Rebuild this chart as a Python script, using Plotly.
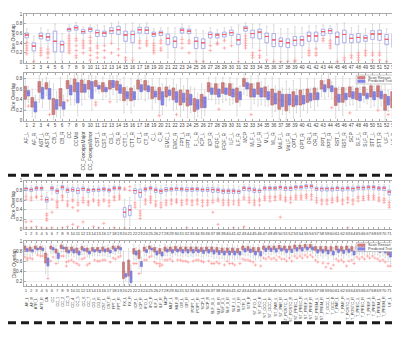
import plotly.graph_objects as go

# ---------------- data ----------------
n1 = 53
names53 = ["AF_L","AF_R","AST_L","AST_R","CB_L","CB_R","CC","CCMid","CC_ForcepsMajor","CC_ForcepsMinor",
           "CST_L","CST_R","CS_L","CS_R","CTT_L","CTT_R","CT_L","CT_R","C_L","C_R","EMC_L","EMC_R",
           "FPT_L","FPT_R","F_L_R","ICP_L","ICP_R","IFOF_L","IFOF_R","ILF_L","ILF_R","MCP","MLF_L","MLF_R",
           "ML_L","ML_R","MdLF_L","MdLF_R","OPT_L","OPT_R","OR_L","OR_R","PPT_L","PPT_R","RST_L","RST_R",
           "SCP","SLF_L","SLF_R","STT_L","STT_R","UF_L","UF_R"]
names72 = ["AF_L","AF_R","ATR_L","ATR_R","CA","CC","CC_1","CC_2","CC_3","CC_4","CC_5","CC_6","CC_7",
           "CG_L","CG_R","CST_L","CST_R","FPT_L","FPT_R","FX_L","FX_R","ICP_L","ICP_R","IFO_L","IFO_R",
           "ILF_L","ILF_R","MCP","MLF_L","MLF_R","OR_L","OR_R","POPT_L","POPT_R","SCP_L","SCP_R",
           "SLF_III_L","SLF_III_R","SLF_II_L","SLF_II_R","SLF_I_L","SLF_I_R","STR_L","STR_R",
           "ST_FO_L","ST_FO_R","ST_OCC_L","ST_OCC_R","ST_PAR_L","ST_PAR_R","ST_POSTC_L","ST_POSTC_R",
           "ST_PREC_L","ST_PREC_R","ST_PREF_L","ST_PREF_R","ST_PREM_L","ST_PREM_R","T_OCC_L","T_OCC_R",
           "T_PAR_L","T_PAR_R","T_POSTC_L","T_POSTC_R","T_PREC_L","T_PREC_R","T_PREF_L","T_PREF_R",
           "T_PREM_L","T_PREM_R","UF_L","UF_R"]

# Panel 1 (53 bundles, single boxes)
q1_1 = [0.51,0.24,0.49,0.46,0.22,0.22,0.65,0.67,0.60,0.64,0.54,0.54,0.60,0.58,0.44,0.41,0.61,0.60,0.54,0.56,0.37,0.31,0.61,0.60,0.29,0.29,
        0.51,0.51,0.53,0.56,0.37,0.65,0.51,0.49,0.41,0.33,0.33,0.31,0.35,0.35,0.44,0.44,0.56,0.60,0.37,0.41,0.41,0.42,0.44,0.48,0.46,0.37,0.31]
med_1 = [0.57,0.34,0.55,0.53,0.44,0.37,0.69,0.72,0.64,0.69,0.62,0.61,0.66,0.68,0.57,0.58,0.68,0.67,0.59,0.62,0.50,0.44,0.67,0.65,0.44,0.41,
         0.58,0.57,0.58,0.62,0.47,0.71,0.60,0.63,0.54,0.47,0.44,0.41,0.46,0.47,0.55,0.55,0.64,0.66,0.53,0.58,0.50,0.52,0.51,0.59,0.59,0.48,0.47]
q3_1 = [0.61,0.41,0.61,0.60,0.65,0.44,0.71,0.76,0.68,0.72,0.67,0.65,0.72,0.75,0.65,0.65,0.73,0.73,0.63,0.65,0.59,0.53,0.71,0.69,0.52,0.49,
        0.63,0.60,0.63,0.67,0.58,0.75,0.67,0.69,0.61,0.60,0.51,0.49,0.54,0.54,0.63,0.63,0.69,0.70,0.63,0.67,0.58,0.60,0.56,0.66,0.67,0.58,0.60]
lo_1 = [0.42,0.05,0.35,0.33,0.02,0.03,0.58,0.55,0.50,0.55,0.40,0.40,0.45,0.35,0.20,0.10,0.50,0.50,0.45,0.48,0.10,0.05,0.52,0.48,0.05,0.05,
        0.42,0.42,0.48,0.42,0.08,0.58,0.30,0.30,0.15,0.05,0.08,0.05,0.10,0.10,0.30,0.30,0.55,0.48,0.05,0.15,0.20,0.25,0.30,0.25,0.25,0.05,0.05]
hi_1 = [0.70,0.55,0.72,0.68,0.80,0.60,0.78,0.83,0.74,0.78,0.78,0.76,0.82,0.84,0.80,0.82,0.80,0.82,0.70,0.72,0.72,0.72,0.80,0.76,0.68,0.66,
        0.72,0.68,0.72,0.74,0.78,0.82,0.80,0.80,0.75,0.78,0.70,0.70,0.74,0.72,0.76,0.76,0.78,0.76,0.80,0.82,0.72,0.76,0.70,0.80,0.80,0.70,0.76]
out_1 = [[0.41,0.35,0.30,0.25,0.18],[0.02],[0.30,0.25,0.20,0.15],[0.28,0.22,0.18,0.10],[],[],
         [0.55,0.50,0.45,0.40,0.35,0.30,0.25,0.20],[0.50,0.45,0.35,0.25,0.15,0.10],[0.45,0.40,0.35,0.30,0.20],
         [0.52,0.45,0.40,0.30,0.25,0.15,0.05],[0.35,0.30,0.20,0.10],[0.35,0.25,0.10],[0.40,0.20],[0.28,0.15],
         [0.10,0.05],[0.05],[0.45,0.40,0.30],[0.45,0.40,0.35],[0.40,0.35,0.30,0.25,0.20],[0.45,0.40,0.30,0.25],
         [],[],[0.48,0.40,0.30],[0.45,0.40,0.20],[0.02],[0.02],[0.35,0.25],[0.40,0.38],[0.45,0.30],[0.35],[0.02],
         [0.55,0.50,0.45,0.40,0.35,0.30],[0.20,0.15,0.10],[0.25,0.15,0.10],[0.05],[0.02],[0.02],[0.02],[0.05,0.02],
         [],[0.25,0.20,0.15],[0.28,0.20,0.15],[0.50,0.45],[0.45,0.40,0.35,0.30],[0.02],[0.10,0.05],[0.15,0.10],
         [0.20,0.15,0.10,0.05],[0.25,0.20,0.15],[0.20,0.15,0.05],[0.20,0.15,0.05],[0.02],[0.02]]

# Panel 2 (53 bundles, Scan Rescan vs Predicted Truth)
sr2_q1 = [0.41,0.26,0.54,0.60,0.12,0.28,0.61,0.55,0.54,0.60,0.65,0.55,0.60,0.58,0.38,0.38,0.60,0.58,0.42,0.40,0.45,0.40,0.30,0.28,0.18,0.25,
          0.55,0.50,0.52,0.48,0.35,0.65,0.45,0.50,0.45,0.30,0.22,0.19,0.27,0.30,0.35,0.40,0.60,0.62,0.29,0.35,0.45,0.40,0.48,0.45,0.45,0.20,0.25]
sr2_med = [0.55,0.35,0.65,0.66,0.25,0.45,0.70,0.70,0.68,0.70,0.71,0.65,0.70,0.68,0.52,0.50,0.70,0.68,0.55,0.52,0.55,0.52,0.45,0.42,0.30,0.38,
           0.65,0.62,0.63,0.60,0.50,0.74,0.60,0.62,0.55,0.45,0.40,0.35,0.40,0.45,0.48,0.52,0.70,0.70,0.45,0.50,0.55,0.52,0.56,0.56,0.56,0.35,0.40]
sr2_q3 = [0.65,0.44,0.74,0.72,0.42,0.61,0.76,0.79,0.77,0.76,0.76,0.72,0.76,0.75,0.63,0.62,0.77,0.76,0.64,0.63,0.64,0.62,0.58,0.58,0.42,0.50,
          0.72,0.70,0.72,0.70,0.62,0.80,0.70,0.72,0.64,0.60,0.56,0.50,0.55,0.58,0.60,0.62,0.76,0.78,0.62,0.63,0.64,0.62,0.64,0.66,0.66,0.50,0.55]
sr2_lo = [0.20,0.08,0.35,0.48,0.02,0.05,0.45,0.30,0.30,0.45,0.55,0.40,0.42,0.35,0.15,0.15,0.40,0.38,0.22,0.15,0.28,0.20,0.08,0.06,0.02,0.05,
          0.40,0.32,0.35,0.30,0.10,0.50,0.22,0.28,0.28,0.08,0.02,0.02,0.05,0.08,0.15,0.20,0.45,0.45,0.05,0.10,0.30,0.20,0.35,0.25,0.25,0.02,0.05]
sr2_hi = [0.80,0.60,0.85,0.82,0.70,0.82,0.86,0.88,0.88,0.86,0.84,0.82,0.86,0.86,0.82,0.80,0.86,0.86,0.80,0.80,0.80,0.78,0.80,0.80,0.62,0.70,
          0.82,0.82,0.82,0.82,0.80,0.88,0.85,0.86,0.80,0.82,0.80,0.75,0.76,0.80,0.80,0.80,0.86,0.88,0.84,0.84,0.80,0.80,0.78,0.82,0.82,0.72,0.78]
pt2_q1 = [0.47,0.17,0.42,0.41,0.22,0.22,0.49,0.34,0.54,0.42,0.60,0.55,0.63,0.52,0.42,0.40,0.55,0.55,0.45,0.30,0.48,0.35,0.35,0.30,0.22,0.25,
          0.50,0.45,0.50,0.45,0.40,0.60,0.45,0.45,0.40,0.32,0.27,0.30,0.30,0.32,0.38,0.40,0.55,0.55,0.35,0.40,0.42,0.38,0.42,0.40,0.42,0.30,0.30]
pt2_med = [0.52,0.27,0.52,0.50,0.30,0.28,0.58,0.55,0.62,0.58,0.63,0.59,0.68,0.60,0.48,0.46,0.62,0.60,0.50,0.45,0.52,0.45,0.42,0.40,0.30,0.35,
           0.56,0.52,0.56,0.52,0.47,0.66,0.52,0.55,0.48,0.42,0.38,0.40,0.38,0.40,0.45,0.46,0.62,0.60,0.42,0.46,0.48,0.45,0.47,0.48,0.48,0.38,0.38]
pt2_q3 = [0.57,0.36,0.63,0.61,0.40,0.36,0.67,0.72,0.69,0.74,0.67,0.63,0.76,0.68,0.55,0.55,0.68,0.66,0.56,0.55,0.58,0.55,0.52,0.50,0.40,0.45,
          0.62,0.60,0.62,0.60,0.55,0.72,0.60,0.62,0.55,0.52,0.50,0.50,0.48,0.48,0.52,0.53,0.68,0.66,0.50,0.52,0.55,0.52,0.52,0.55,0.56,0.46,0.45]
pt2_lo = [0.35,0.05,0.25,0.22,0.08,0.10,0.30,0.10,0.40,0.20,0.52,0.45,0.50,0.38,0.30,0.28,0.42,0.42,0.35,0.12,0.38,0.22,0.20,0.15,0.08,0.10,
          0.40,0.32,0.38,0.32,0.28,0.48,0.32,0.30,0.28,0.18,0.12,0.15,0.15,0.20,0.25,0.28,0.42,0.42,0.20,0.28,0.30,0.25,0.32,0.28,0.28,0.18,0.15]
pt2_hi = [0.65,0.48,0.78,0.75,0.55,0.48,0.80,0.86,0.78,0.86,0.72,0.68,0.84,0.78,0.65,0.66,0.78,0.75,0.64,0.70,0.66,0.68,0.66,0.64,0.52,0.58,
          0.70,0.70,0.70,0.70,0.66,0.80,0.70,0.74,0.66,0.66,0.62,0.62,0.60,0.60,0.62,0.62,0.76,0.74,0.64,0.62,0.65,0.64,0.60,0.66,0.66,0.58,0.56]
sr2_out_cat = [7, 11, 11, 13, 20, 33, 47, 51]
sr2_out_val = [0.38, 0.30, 0.35, 0.36, 0.10, 0.12, 0.15, 0.20]
pt2_out_cat = [1, 4, 22, 28, 44, 52]
pt2_out_val = [0.28, 0.12, 0.12, 0.22, 0.25, 0.12]

# Panel 3 (72 bundles, single boxes)
q1_3 = [0.80,0.78,0.81,0.81,0.56,0.81,0.74,0.83,0.76,0.78,0.74,0.80,0.76,0.78,0.78,0.79,0.77,0.82,0.82,0.25,0.28,0.74,0.66,0.79,0.82,0.76,0.74,0.78,0.79,0.80,0.79,0.78,0.78,0.79,0.78,0.78,
        0.76,0.76,0.74,0.74,0.74,0.74,0.80,0.79,0.76,0.76,0.81,0.81,0.81,0.83,0.80,0.80,0.83,0.83,0.85,0.85,0.80,0.79,0.79,0.79,0.80,0.79,0.81,0.79,0.82,0.82,0.83,0.83,0.81,0.80,0.71,0.74]
med_3 = [0.84,0.82,0.85,0.85,0.61,0.85,0.79,0.87,0.81,0.82,0.80,0.84,0.81,0.82,0.82,0.83,0.81,0.85,0.85,0.35,0.40,0.80,0.76,0.83,0.85,0.81,0.79,0.82,0.83,0.84,0.83,0.82,0.83,0.83,0.82,0.82,
         0.82,0.81,0.79,0.79,0.79,0.78,0.85,0.84,0.81,0.80,0.85,0.85,0.85,0.87,0.85,0.85,0.87,0.87,0.89,0.89,0.84,0.84,0.84,0.84,0.85,0.84,0.85,0.84,0.86,0.86,0.87,0.87,0.85,0.85,0.77,0.79]
q3_3 = [0.86,0.85,0.88,0.87,0.66,0.88,0.83,0.90,0.85,0.86,0.85,0.87,0.84,0.84,0.85,0.86,0.84,0.88,0.88,0.45,0.49,0.84,0.83,0.86,0.88,0.85,0.83,0.86,0.86,0.87,0.86,0.86,0.86,0.86,0.85,0.86,
        0.86,0.85,0.83,0.83,0.83,0.81,0.88,0.87,0.85,0.83,0.88,0.88,0.88,0.89,0.88,0.88,0.90,0.90,0.92,0.92,0.87,0.87,0.87,0.87,0.88,0.87,0.88,0.87,0.89,0.89,0.90,0.90,0.88,0.88,0.81,0.83]
lo_3 = [0.72,0.68,0.72,0.72,0.42,0.72,0.62,0.75,0.65,0.68,0.60,0.70,0.65,0.70,0.68,0.70,0.68,0.74,0.74,0.05,0.08,0.62,0.45,0.70,0.74,0.65,0.62,0.68,0.70,0.70,0.70,0.68,0.68,0.70,0.68,0.68,
        0.64,0.64,0.62,0.62,0.62,0.62,0.70,0.68,0.64,0.64,0.72,0.72,0.72,0.74,0.70,0.70,0.74,0.74,0.77,0.77,0.70,0.68,0.68,0.68,0.70,0.68,0.72,0.68,0.73,0.73,0.74,0.74,0.72,0.70,0.57,0.62]
hi_3 = [0.91,0.90,0.93,0.92,0.76,0.93,0.91,0.95,0.91,0.92,0.92,0.93,0.90,0.90,0.91,0.92,0.90,0.93,0.93,0.62,0.66,0.92,0.93,0.92,0.93,0.92,0.91,0.92,0.92,0.93,0.92,0.92,0.92,0.92,0.91,0.92,
        0.92,0.92,0.91,0.91,0.91,0.89,0.93,0.93,0.92,0.91,0.93,0.93,0.93,0.94,0.93,0.93,0.95,0.95,0.96,0.96,0.93,0.93,0.93,0.93,0.93,0.93,0.93,0.93,0.94,0.94,0.95,0.95,0.93,0.93,0.90,0.91]
out_3 = [[0.68,0.62,0.15,0.03],[0.65,0.60,0.16,0.03],[0.68,0.65,0.05],[0.68,0.62,0.03],[0.32,0.28,0.22,0.18,0.02],
         [0.62,0.35,0.03],[0.58,0.55,0.50,0.45],[0.70,0.66,0.60,0.03],[0.58,0.52,0.48,0.05],[0.62,0.58,0.45,0.10],
         [0.55,0.50,0.38,0.05],[0.65,0.60,0.55,0.15],[0.58,0.55,0.50],[0.62,0.58,0.05],[0.60,0.55,0.50,0.03],
         [0.62,0.58,0.12],[0.60,0.55,0.48],[0.68,0.65,0.60,0.03],[0.70,0.66,0.62],[0.85,0.82,0.02],[0.88,0.80],
         [0.55,0.50,0.45],[0.38,0.33,0.28,0.22],[0.62,0.58,0.52],[0.68,0.64,0.60,0.55],[0.58,0.52,0.48],
         [0.55,0.50,0.45],[0.60,0.55,0.50],[0.62,0.58,0.52],[0.62,0.58,0.55],[0.60,0.55,0.50],[0.62,0.58,0.52,0.03],
         [0.60,0.56,0.50],[0.62,0.58,0.52],[0.60,0.55,0.48],[0.60,0.55,0.50],[0.60,0.55,0.35],[0.62,0.58,0.10],
         [0.60,0.55,0.50],[0.60,0.55,0.50],[0.58,0.52,0.03],[0.60,0.55,0.50],[0.66,0.62,0.05],[0.65,0.60,0.55],
         [0.60,0.55,0.50],[0.62,0.58,0.50],[0.68,0.64,0.60],[0.68,0.64,0.58],[0.68,0.65,0.60],[0.70,0.66,0.62,0.25],
         [0.66,0.62,0.58],[0.66,0.62,0.55],[0.70,0.66,0.62],[0.70,0.66,0.62],[0.72,0.68,0.64],[0.72,0.68,0.62],
         [0.65,0.60,0.55],[0.62,0.58,0.52],[0.62,0.58,0.52],[0.64,0.60,0.55],[0.66,0.62,0.58],[0.62,0.58,0.52],
         [0.66,0.62,0.55,0.03],[0.62,0.58,0.52],[0.68,0.64,0.58],[0.68,0.64,0.60],[0.70,0.66,0.62],[0.70,0.66,0.62],
         [0.66,0.62,0.58],[0.64,0.60,0.55],[0.55,0.50,0.45],[0.58,0.52,0.48]]

# Panel 4 (72 bundles, Scan Rescan vs Predicted Truth)
sr4_q1 = [0.82,0.80,0.84,0.83,0.56,0.84,0.76,0.85,0.78,0.80,0.76,0.82,0.78,0.80,0.80,0.80,0.79,0.84,0.84,0.25,0.30,0.74,0.65,0.80,0.84,0.78,0.75,0.80,0.80,0.81,0.80,0.80,0.80,0.80,0.79,0.80,
          0.79,0.78,0.77,0.77,0.77,0.76,0.82,0.81,0.78,0.78,0.83,0.83,0.83,0.84,0.82,0.82,0.84,0.84,0.86,0.86,0.81,0.80,0.80,0.80,0.82,0.80,0.82,0.80,0.83,0.83,0.84,0.84,0.82,0.81,0.72,0.76]
sr4_med = [0.87,0.85,0.87,0.86,0.66,0.87,0.80,0.89,0.84,0.84,0.82,0.86,0.82,0.84,0.84,0.85,0.83,0.87,0.87,0.40,0.45,0.80,0.75,0.85,0.87,0.83,0.81,0.85,0.85,0.86,0.85,0.85,0.85,0.85,0.84,0.85,
           0.84,0.83,0.82,0.82,0.82,0.81,0.87,0.86,0.83,0.83,0.87,0.87,0.87,0.88,0.87,0.87,0.89,0.89,0.90,0.90,0.86,0.85,0.85,0.85,0.87,0.85,0.87,0.85,0.88,0.88,0.89,0.89,0.87,0.86,0.77,0.81]
sr4_q3 = [0.90,0.88,0.90,0.89,0.76,0.90,0.84,0.92,0.88,0.88,0.86,0.89,0.86,0.87,0.87,0.88,0.86,0.90,0.90,0.58,0.62,0.85,0.82,0.88,0.90,0.87,0.85,0.88,0.88,0.89,0.88,0.88,0.88,0.88,0.87,0.88,
          0.88,0.87,0.86,0.86,0.86,0.85,0.90,0.89,0.87,0.87,0.90,0.90,0.90,0.91,0.90,0.90,0.92,0.92,0.93,0.93,0.89,0.89,0.89,0.89,0.90,0.89,0.90,0.89,0.91,0.91,0.92,0.92,0.90,0.90,0.82,0.85]
sr4_lo = [0.72,0.70,0.75,0.74,0.35,0.75,0.64,0.78,0.66,0.70,0.64,0.72,0.68,0.70,0.70,0.70,0.68,0.75,0.75,0.10,0.12,0.62,0.45,0.70,0.75,0.66,0.62,0.70,0.70,0.72,0.70,0.70,0.70,0.70,0.68,0.70,
          0.68,0.66,0.65,0.65,0.65,0.64,0.72,0.70,0.66,0.66,0.74,0.74,0.74,0.75,0.72,0.72,0.75,0.75,0.78,0.78,0.70,0.70,0.70,0.70,0.72,0.70,0.72,0.70,0.74,0.74,0.75,0.75,0.72,0.70,0.58,0.64]
sr4_hi = [0.95,0.93,0.95,0.94,0.88,0.95,0.92,0.97,0.94,0.94,0.93,0.94,0.92,0.93,0.93,0.94,0.92,0.95,0.95,0.80,0.85,0.93,0.92,0.94,0.95,0.93,0.92,0.94,0.94,0.94,0.94,0.94,0.94,0.94,0.93,0.94,
          0.94,0.93,0.93,0.93,0.93,0.92,0.95,0.94,0.93,0.93,0.95,0.95,0.95,0.96,0.95,0.95,0.97,0.97,0.97,0.97,0.94,0.94,0.94,0.94,0.95,0.94,0.95,0.94,0.96,0.96,0.97,0.97,0.95,0.95,0.90,0.92]
pt4_q1 = [0.79,0.78,0.82,0.81,0.50,0.82,0.65,0.84,0.76,0.76,0.72,0.80,0.74,0.78,0.77,0.78,0.76,0.80,0.82,0.28,0.17,0.72,0.49,0.77,0.82,0.72,0.70,0.78,0.76,0.78,0.76,0.76,0.76,0.77,0.75,0.76,
          0.74,0.73,0.72,0.72,0.72,0.72,0.78,0.77,0.72,0.70,0.79,0.79,0.78,0.80,0.77,0.77,0.80,0.80,0.82,0.82,0.76,0.76,0.74,0.72,0.77,0.75,0.77,0.72,0.79,0.79,0.80,0.80,0.77,0.76,0.68,0.72]
pt4_med = [0.82,0.81,0.84,0.84,0.58,0.85,0.71,0.86,0.79,0.80,0.76,0.83,0.77,0.81,0.80,0.81,0.79,0.83,0.85,0.31,0.28,0.76,0.54,0.80,0.84,0.76,0.74,0.81,0.80,0.81,0.80,0.80,0.80,0.80,0.79,0.80,
           0.78,0.77,0.76,0.76,0.76,0.76,0.82,0.81,0.76,0.75,0.83,0.83,0.82,0.83,0.81,0.81,0.84,0.84,0.85,0.85,0.80,0.80,0.78,0.76,0.81,0.79,0.81,0.76,0.83,0.83,0.84,0.84,0.81,0.80,0.73,0.76]
pt4_q3 = [0.85,0.83,0.86,0.86,0.66,0.87,0.76,0.88,0.82,0.84,0.80,0.85,0.80,0.83,0.82,0.84,0.82,0.86,0.87,0.35,0.40,0.80,0.59,0.83,0.86,0.80,0.78,0.84,0.83,0.84,0.83,0.83,0.83,0.83,0.82,0.83,
          0.82,0.81,0.80,0.80,0.80,0.79,0.85,0.84,0.80,0.79,0.86,0.86,0.85,0.86,0.84,0.84,0.87,0.87,0.88,0.88,0.83,0.83,0.82,0.80,0.84,0.82,0.84,0.80,0.86,0.86,0.87,0.87,0.84,0.83,0.78,0.80]
pt4_lo = [0.72,0.70,0.75,0.74,0.30,0.75,0.55,0.78,0.68,0.68,0.62,0.72,0.66,0.70,0.70,0.70,0.68,0.72,0.75,0.20,0.10,0.62,0.35,0.70,0.75,0.64,0.62,0.70,0.68,0.70,0.68,0.68,0.68,0.70,0.66,0.68,
          0.65,0.64,0.62,0.62,0.62,0.62,0.70,0.68,0.62,0.60,0.72,0.72,0.70,0.72,0.68,0.68,0.72,0.72,0.75,0.75,0.66,0.66,0.64,0.62,0.68,0.66,0.68,0.62,0.72,0.72,0.72,0.72,0.68,0.66,0.55,0.62]
pt4_hi = [0.90,0.88,0.91,0.91,0.74,0.92,0.83,0.93,0.88,0.90,0.86,0.90,0.86,0.88,0.88,0.90,0.88,0.91,0.92,0.40,0.52,0.87,0.68,0.89,0.91,0.87,0.85,0.90,0.89,0.90,0.89,0.89,0.89,0.89,0.88,0.89,
          0.88,0.87,0.87,0.87,0.87,0.86,0.90,0.90,0.87,0.86,0.91,0.91,0.90,0.91,0.90,0.90,0.92,0.92,0.93,0.93,0.89,0.89,0.88,0.87,0.90,0.88,0.90,0.87,0.91,0.91,0.92,0.92,0.90,0.89,0.86,0.87]
sr4_out = [[0.68],[0.66],[],[0.70],[],[0.60],[0.55],[0.70],[0.58,0.50],[0.62],[0.55],[0.64],[0.52],[],[0.60],[0.62],[],
           [0.66],[0.68],[],[],[0.55],[0.35],[0.62],[0.68],[0.58],[0.55,0.50],[0.62],[0.64],[],[0.62],[0.60],[],[0.62],
           [0.60],[],[0.55],[0.58],[],[0.60],[0.55],[],[0.64],[0.62],[0.58],[],[0.66],[0.68],[0.66],[0.68],[0.64],[0.66],
           [0.70],[0.70],[0.72],[0.72],[0.62],[],[0.48],[0.45],[0.64],[0.62],[0.50],[0.62],[0.68],[0.68],[0.70],[0.70],
           [0.64],[0.62],[0.50],[0.55]]
pt4_out = [[0.66,0.62],[0.64],[0.72],[0.70],[0.25],[0.68],[],[0.70],[0.60],[0.58],[0.52],[0.66],[0.55],[0.62],[0.60],
           [0.62],[0.58],[0.64],[0.70],[],[],[0.55],[],[0.62],[0.70],[0.55],[0.52],[0.62],[0.60],[0.62],[0.60],[0.58],
           [0.60],[0.62],[0.58],[0.60],[0.55],[0.55],[0.52],[0.55],[0.52],[0.55],[0.62],[0.60],[0.52],[0.50],[0.64],[0.64],
           [0.62],[0.64],[0.60],[0.60],[0.66],[0.66],[0.68],[0.68],[0.58],[0.56],[0.55],[0.52],[0.60],[0.58],[0.60],[0.55],
           [0.64],[0.64],[0.66],[0.66],[0.60],[0.58],[0.50],[0.55]]

y_ticks_full = [0, 0.2, 0.4, 0.6, 0.8, 1]
y_ticks_p2 = [0, 0.2, 0.4, 0.6, 0.8]
y_ticks_p4 = [0.2, 0.4, 0.6, 0.8, 1]
legend_labels = ["Scan Rescan", "Predicted Truth"]
y_title = "Dice Overlap"

for arr in [q1_1, med_1, q3_1, lo_1, hi_1, out_1, sr2_q1, sr2_med, sr2_q3, sr2_lo, sr2_hi,
            pt2_q1, pt2_med, pt2_q3, pt2_lo, pt2_hi, names53]:
    assert len(arr) == 53, len(arr)
for arr in [q1_3, med_3, q3_3, lo_3, hi_3, out_3, sr4_q1, sr4_med, sr4_q3, sr4_lo, sr4_hi,
            pt4_q1, pt4_med, pt4_q3, pt4_lo, pt4_hi, sr4_out, pt4_out, names72]:
    assert len(arr) == 72, len(arr)

# ---------------- styling ----------------
W, H = 400, 356
FONT = "Liberation Sans, Arial, sans-serif"
RED_FILL = "rgba(205,105,105,0.85)"
RED_EDGE = "#c07070"
BLUE_FILL = "rgba(110,110,230,0.85)"
BLUE_EDGE = "#7a7ad8"
BOX1 = "#9d9dff"
MED = "#ff5a5a"
WHISK = "#c4c4c4"
OUT = "#ff8a8a"
AX = "#a8a8a8"
TXT = "#444444"
OFF = 0.22


def pxx(p):
    return p / W


def pxy(p):
    return 1 - p / H


fig = go.Figure()


def box_traces(xs, q1, med, q3, lo, hi, xa, ya, edge, fill, width, med_color=None):
    fig.add_trace(go.Box(x=xs, q1=q1, median=med, q3=q3, lowerfence=lo, upperfence=hi,
                         xaxis=xa, yaxis=ya, width=width, whiskerwidth=0.5,
                         line=dict(color=WHISK, width=0.6), fillcolor="rgba(0,0,0,0)",
                         boxpoints=False, showlegend=False, hoverinfo="skip"))
    fig.add_trace(go.Box(x=xs, q1=q1, median=med, q3=q3, lowerfence=q1, upperfence=q3,
                         xaxis=xa, yaxis=ya, width=width, whiskerwidth=0,
                         line=dict(color=edge, width=0.6), fillcolor=fill,
                         boxpoints=False, showlegend=False, hoverinfo="skip"))
    if med_color:
        fig.add_trace(go.Box(x=xs, q1=med, median=med, q3=med, lowerfence=med, upperfence=med,
                             xaxis=xa, yaxis=ya, width=width, whiskerwidth=0,
                             line=dict(color=med_color, width=0.8), fillcolor="rgba(0,0,0,0)",
                             boxpoints=False, showlegend=False, hoverinfo="skip"))


def outlier_trace(xs, ys, xa, ya, size=2.6):
    fig.add_trace(go.Scatter(x=xs, y=ys, mode="markers", xaxis=xa, yaxis=ya,
                             marker=dict(symbol="cross-thin", size=size, color=OUT,
                                         line=dict(color=OUT, width=0.6)),
                             showlegend=False, hoverinfo="skip"))


pos53 = list(range(1, n1 + 1))
pos72 = list(range(1, 73))

# Panel 1
box_traces(pos53, q1_1, med_1, q3_1, lo_1, hi_1, "x", "y", BOX1, "rgba(0,0,0,0)", 0.5, MED)
ox, oy = [], []
for p, vals in zip(pos53, out_1):
    for v in vals:
        ox.append(p); oy.append(v)
outlier_trace(ox, oy, "x", "y")

# Panel 2
p2_sr = [p - OFF for p in pos53]
p2_pt = [p + OFF for p in pos53]
box_traces(p2_sr, sr2_q1, sr2_med, sr2_q3, sr2_lo, sr2_hi, "x2", "y2", RED_EDGE, RED_FILL, 0.38)
box_traces(p2_pt, pt2_q1, pt2_med, pt2_q3, pt2_lo, pt2_hi, "x2", "y2", BLUE_EDGE, BLUE_FILL, 0.38)
outlier_trace([c - OFF for c in sr2_out_cat] + [c + OFF for c in pt2_out_cat],
              sr2_out_val + pt2_out_val, "x2", "y2")

# Panel 3
box_traces(pos72, q1_3, med_3, q3_3, lo_3, hi_3, "x3", "y3", BOX1, "rgba(0,0,0,0)", 0.5, MED)
ox, oy = [], []
for p, vals in zip(pos72, out_3):
    for v in vals:
        ox.append(p); oy.append(v)
outlier_trace(ox, oy, "x3", "y3", 2.3)

# Panel 4
p4_sr = [p - OFF for p in pos72]
p4_pt = [p + OFF for p in pos72]
box_traces(p4_sr, sr4_q1, sr4_med, sr4_q3, sr4_lo, sr4_hi, "x4", "y4", RED_EDGE, RED_FILL, 0.38)
box_traces(p4_pt, pt4_q1, pt4_med, pt4_q3, pt4_lo, pt4_hi, "x4", "y4", BLUE_EDGE, BLUE_FILL, 0.38)
ox, oy = [], []
for p, vals in zip(p4_sr, sr4_out):
    for v in vals:
        ox.append(p); oy.append(v)
for p, vals in zip(p4_pt, pt4_out):
    for v in vals:
        ox.append(p); oy.append(v)
outlier_trace(ox, oy, "x4", "y4", 2.3)

# ---------------- axes ----------------
XD = [pxx(16), pxx(389.5)]


def xaxis(anchor, n, fsize):
    return dict(domain=XD, anchor=anchor, range=[0.6, n + 0.4], tickmode="array",
                tickvals=list(range(1, n + 1)), ticktext=[str(i) for i in range(1, n + 1)],
                tickangle=0, tickfont=dict(size=fsize, color=TXT, family=FONT),
                ticks="inside", ticklen=2, tickcolor=AX, showline=True, linecolor=AX,
                linewidth=0.8, mirror="ticks", showgrid=False, zeroline=False)


def yaxis(anchor, dom, rng, tickvals):
    return dict(domain=dom, anchor=anchor, range=rng, tickmode="array", tickvals=tickvals,
                ticktext=[("%g" % v) for v in tickvals],
                tickfont=dict(size=4.5, color=TXT, family=FONT), ticks="inside", ticklen=2,
                tickcolor=AX, showline=True, linecolor=AX, linewidth=0.8, mirror="ticks",
                showgrid=True, gridcolor="#f0f0f0", gridwidth=0.5, zeroline=False)


fig.update_layout(
    width=W, height=H, autosize=False,
    margin=dict(l=0, r=0, t=0, b=0),
    paper_bgcolor="white", plot_bgcolor="white",
    showlegend=False, boxmode="overlay",
    font=dict(family=FONT, size=5, color=TXT),
    xaxis=xaxis("y", 53, 4.6),
    yaxis=yaxis("x", [pxy(53.3), pxy(4.3)], [0, 1], y_ticks_full),
    xaxis2=xaxis("y2", 53, 4.6),
    yaxis2=yaxis("x2", [pxy(112.5), pxy(64)], [0, 0.9], y_ticks_p2),
    xaxis3=xaxis("y3", 72, 4.2),
    yaxis3=yaxis("x3", [pxy(222.3), pxy(173.3)], [0, 1], y_ticks_full),
    xaxis4=xaxis("y4", 72, 4.2),
    yaxis4=yaxis("x4", [pxy(280), pxy(234.3)], [0.1, 1], y_ticks_p4),
)

ann = []
# y titles
for top, bot in [(4.3, 53.3), (64, 112.5), (173.3, 222.3), (234.3, 280)]:
    ann.append(dict(text=y_title, x=pxx(5.5), y=pxy((top + bot) / 2), xref="paper", yref="paper",
                    textangle=-90, showarrow=False, xanchor="center", yanchor="middle",
                    font=dict(size=5, color=TXT, family=FONT)))
# rotated bundle names
for p, nm in zip(pos53, names53):
    ann.append(dict(text=nm, x=p, xref="x2", y=pxy(121.5), yref="paper", textangle=-90,
                    showarrow=False, xanchor="center", yanchor="top",
                    font=dict(size=4.8, color=TXT, family=FONT)))
for p, nm in zip(pos72, names72):
    ann.append(dict(text=nm, x=p, xref="x4", y=pxy(288.5), yref="paper", textangle=-90,
                    showarrow=False, xanchor="center", yanchor="top",
                    font=dict(size=3.9, color=TXT, family=FONT)))

shapes = []
# dashed separators
for yy in [167.7, 317.2]:
    shapes.append(dict(type="line", xref="paper", yref="paper", x0=0, x1=1, y0=pxy(yy), y1=pxy(yy),
                       line=dict(color="#1a1a1a", width=3, dash="8px,5px")))

# manual legends
for (lx0, ly0) in [(349, 66), (349, 236)]:
    shapes.append(dict(type="rect", xref="paper", yref="paper", x0=pxx(lx0), x1=pxx(lx0 + 40),
                       y0=pxy(ly0), y1=pxy(ly0 + 9), fillcolor="white",
                       line=dict(color="#aaaaaa", width=0.6)))
    for k, (fc, ec) in enumerate([(RED_FILL, RED_EDGE), (BLUE_FILL, BLUE_EDGE)]):
        yt = ly0 + 1.2 + k * 3.7
        shapes.append(dict(type="rect", xref="paper", yref="paper", x0=pxx(lx0 + 1.5), x1=pxx(lx0 + 9),
                           y0=pxy(yt), y1=pxy(yt + 2.8), fillcolor=fc, line=dict(color=ec, width=0.4)))
        ann.append(dict(text=legend_labels[k], x=pxx(lx0 + 10), y=pxy(yt + 1.4), xref="paper",
                        yref="paper", showarrow=False, xanchor="left", yanchor="middle",
                        font=dict(size=3.8, color=TXT, family=FONT)))

fig.update_layout(annotations=ann, shapes=shapes)
fig.write_html("out.html")
